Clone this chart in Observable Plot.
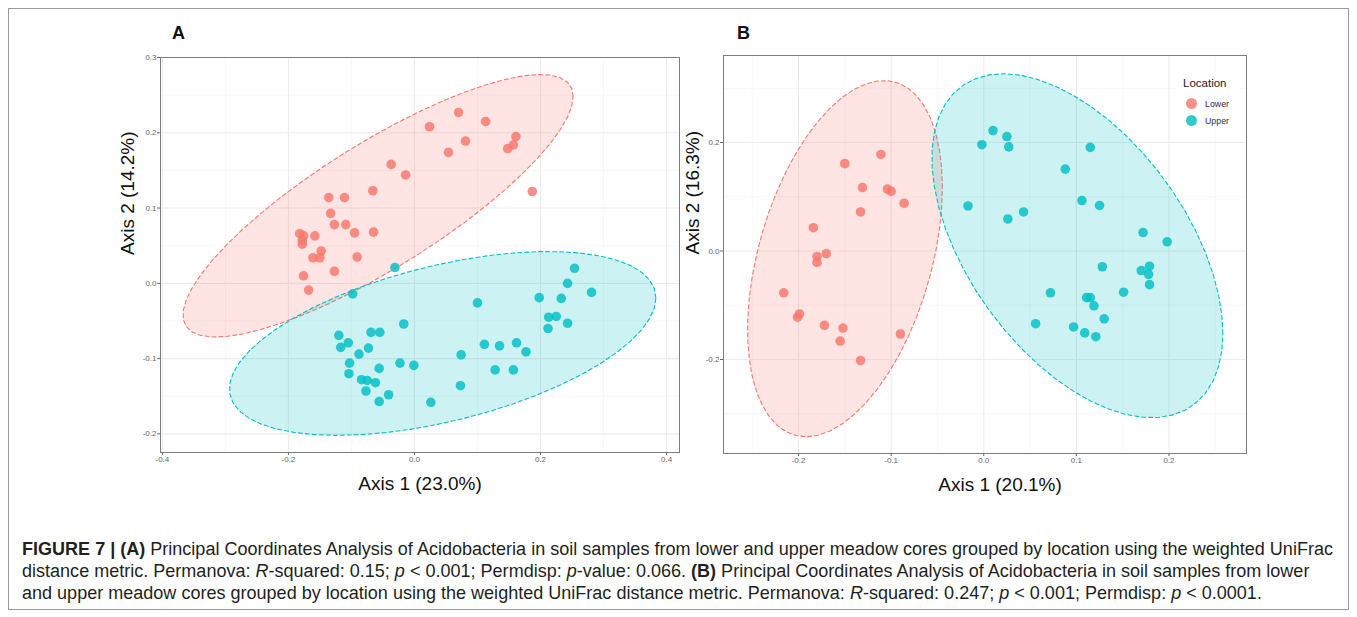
<!DOCTYPE html>
<html>
<head>
<meta charset="utf-8">
<script src="https://cdn.jsdelivr.net/npm/d3@7"></script>
<script src="https://cdn.jsdelivr.net/npm/@observablehq/plot@0.6"></script>
<style>
  body { margin: 0; background: #fff; }
  #fig { position: relative; width: 1357px; height: 617px; overflow: hidden; background: #fff;
         font-family: "Liberation Sans", Arial, sans-serif; }
  #border { position: absolute; left: 8px; top: 8px; width: 1341px; height: 602px;
            border: 1px solid #9a9a9a; box-sizing: border-box; }
  .panel { position: absolute; top: 0; }
  .tag { position: absolute; font-weight: bold; font-size: 18px; line-height: 18px; color: #111; }
  #legend { position: absolute; left: 1176px; top: 72px; width: 64px; height: 58px; background: #fff; }
  #legend .ttl { position: absolute; left: 7px; top: 5px; font-size: 11.5px; color: #222; }
  #legend .dot { position: absolute; width: 11px; height: 11px; border-radius: 50%; }
  #legend .lab { position: absolute; left: 29px; font-size: 8.8px; color: #333; line-height: 10px; }
  #caption { position: absolute; left: 22px; top: 538px; white-space: nowrap; color: #231f20;
             font-family: "Liberation Sans", Arial, sans-serif;
             font-size: 18.05px; line-height: 22px; }
</style>
</head>
<body>
<div id="fig">
  <div id="border"></div>
  <div id="panelA" class="panel" style="left:0px"></div>
  <div id="panelB" class="panel" style="left:670px"></div>
  <div class="tag" style="left:172px; top:24px">A</div>
  <div class="tag" style="left:737px; top:24px">B</div>
  <div id="legend"></div>
  <div id="caption"><b>FIGURE 7 | (A)</b> Principal Coordinates Analysis of Acidobacteria in soil samples from lower and upper meadow cores grouped by location using the weighted UniFrac<br>distance metric. Permanova: <i>R</i>-squared: 0.15; <i>p</i> &lt; 0.001; Permdisp: <i>p</i>-value: 0.066. <b>(B)</b> Principal Coordinates Analysis of Acidobacteria in soil samples from lower<br>and upper meadow cores grouped by location using the weighted UniFrac distance metric. Permanova: <i>R</i>-squared: 0.247; <i>p</i> &lt; 0.001; Permdisp: <i>p</i> &lt; 0.0001.</div>
</div>
<script>
// ---------------- DATA ----------------
const groups = ["Lower", "Upper"];
const groupColors = ["#F8766D", "#00BFC4"];
const legendTitle = "Location";

// Panel A
const aLowerX = [-0.037,-0.014,-0.066,-0.136,-0.111,-0.133,-0.127,-0.109,-0.095,-0.065,-0.182,-0.176,-0.158,-0.178,-0.178,-0.148,-0.161,-0.150,-0.091,-0.176,-0.127,-0.168,0.070,0.024,0.113,0.081,0.054,0.161,0.157,0.148,0.187];
const aLowerY = [0.158,0.144,0.123,0.114,0.114,0.093,0.078,0.078,0.067,0.068,0.066,0.063,0.063,0.057,0.052,0.043,0.034,0.034,0.035,0.010,0.016,-0.009,0.227,0.208,0.215,0.189,0.174,0.195,0.184,0.179,0.122];
const aUpperX = [-0.031,-0.098,-0.120,-0.117,-0.105,-0.069,-0.055,-0.088,-0.073,-0.103,-0.104,-0.056,-0.084,-0.075,-0.062,-0.077,-0.041,-0.056,-0.017,-0.023,-0.001,0.026,0.100,0.074,0.073,0.111,0.135,0.162,0.177,0.128,0.157,0.198,0.233,0.243,0.254,0.281,0.213,0.225,0.212,0.243];
const aUpperY = [0.021,-0.014,-0.069,-0.085,-0.079,-0.065,-0.065,-0.094,-0.086,-0.106,-0.120,-0.113,-0.128,-0.129,-0.132,-0.143,-0.148,-0.157,-0.054,-0.106,-0.109,-0.158,-0.026,-0.095,-0.136,-0.081,-0.083,-0.079,-0.091,-0.115,-0.115,-0.019,-0.020,0.000,0.020,-0.012,-0.045,-0.044,-0.060,-0.053];
const aAxisTitles = ["Axis 1 (23.0%)", "Axis 2 (14.2%)"];
const aDomainX = [-0.403, 0.4206];
const aDomainY = [-0.2247, 0.3];
const aTicksX = [-0.4, -0.2, 0, 0.2, 0.4];
const aTicksY = [-0.2, -0.1, 0, 0.1, 0.2, 0.3];
const aMinorX = [-0.3, -0.1, 0.1, 0.3];
const aMinorY = [-0.15, -0.05, 0.05, 0.15, 0.25];

// Panel B
const bLowerX = [-0.111,-0.150,-0.131,-0.104,-0.100,-0.086,-0.133,-0.184,-0.180,-0.170,-0.180,-0.216,-0.199,-0.201,-0.172,-0.152,-0.155,-0.133,-0.090];
const bLowerY = [0.178,0.161,0.117,0.114,0.110,0.088,0.072,0.043,-0.010,-0.005,-0.021,-0.077,-0.116,-0.122,-0.137,-0.142,-0.166,-0.202,-0.153];
const bUpperX = [0.010,0.025,0.027,-0.002,0.115,0.088,-0.017,0.026,0.043,0.106,0.125,0.172,0.198,0.128,0.170,0.179,0.178,0.179,0.072,0.111,0.115,0.119,0.151,0.130,0.056,0.097,0.109,0.121];
const bUpperY = [0.222,0.211,0.192,0.196,0.191,0.151,0.083,0.059,0.072,0.093,0.084,0.034,0.017,-0.029,-0.036,-0.028,-0.043,-0.062,-0.077,-0.086,-0.086,-0.101,-0.076,-0.125,-0.134,-0.140,-0.151,-0.158];
const bAxisTitles = ["Axis 1 (20.1%)", "Axis 2 (16.3%)"];
const bDomainX = [-0.281, 0.2837];
const bDomainY = [-0.3733, 0.3604];
const bTicksX = [-0.2, -0.1, 0, 0.1, 0.2];
const bTicksY = [-0.2, 0, 0.2];
const bMinorX = [-0.25, -0.15, -0.05, 0.05, 0.15, 0.25];
const bMinorY = [-0.3, -0.1, 0.1, 0.3];

// ---------------- ELLIPSE (ggplot2 stat_ellipse, type "norm", level 0.95) ----------------
function statEllipse(xs, ys, level = 0.95, segments = 51) {
  const n = xs.length;
  const mx = d3.mean(xs), my = d3.mean(ys);
  let a = 0, b = 0, c = 0;
  for (let i = 0; i < n; i++) {
    const u = xs[i] - mx, v = ys[i] - my;
    a += u * u; b += u * v; c += v * v;
  }
  a /= (n - 1); b /= (n - 1); c /= (n - 1);
  const r11 = Math.sqrt(a), r12 = b / r11, r22 = Math.sqrt(c - r12 * r12);
  const dfd = n - 1;
  const fq = dfd / 2 * (Math.pow(1 - level, -2 / dfd) - 1); // qf(level, 2, dfd)
  const radius = Math.sqrt(2 * fq);
  return d3.range(segments + 1).map(k => {
    const t = k * 2 * Math.PI / segments;
    const cs = Math.cos(t), sn = Math.sin(t);
    return { x: mx + radius * cs * r11, y: my + radius * (cs * r12 + sn * r22) };
  });
}

const fmt = d => d.toFixed(1);

function panel(cfg) {
  const series = cfg.series;
  const marks = [
    Plot.ruleX(cfg.minorX, { stroke: "#f3f3f3", strokeWidth: 0.7 }),
    Plot.ruleY(cfg.minorY, { stroke: "#f3f3f3", strokeWidth: 0.7 }),
    Plot.ruleX(cfg.ticksX, { stroke: "#ebebeb", strokeWidth: 1.1 }),
    Plot.ruleY(cfg.ticksY, { stroke: "#ebebeb", strokeWidth: 1.1 })
  ];
  for (const s of series) {
    marks.push(Plot.line(statEllipse(s.xs, s.ys), {
      x: "x", y: "y", fill: s.color, fillOpacity: 0.2, stroke: s.color,
      strokeWidth: 1.1, strokeDasharray: "4,3", curve: "linear"
    }));
  }
  for (const s of series) {
    const pts = s.xs.map((x, i) => ({ x, y: s.ys[i] }));
    marks.push(Plot.dot(pts, { x: "x", y: "y", r: 4.8, fill: s.color, fillOpacity: 0.82, stroke: "none" }));
  }
  marks.push(
    Plot.frame({ stroke: "#7d7d7d", strokeWidth: 1 }),
    Plot.axisX(cfg.ticksX, { tickFormat: fmt, tickSize: 3, tickPadding: 1, fontSize: 8, color: "#666", label: null }),
    Plot.axisY(cfg.ticksY, { tickFormat: fmt, tickSize: 3, tickPadding: 1, fontSize: 8, color: "#666", label: null }),
    Plot.text([cfg.titles[0]], { text: d => d, frameAnchor: "bottom", dy: 37, dx: cfg.xTitleDx, fontSize: 19, fill: "#111" }),
    Plot.text([cfg.titles[1]], { text: d => d, frameAnchor: "left", rotate: -90, dx: cfg.yTitleDx, fontSize: 19, fill: "#111" })
  );
  return Plot.plot({
    width: cfg.width, height: cfg.height,
    marginLeft: cfg.ml, marginRight: cfg.mr, marginTop: cfg.mt, marginBottom: cfg.mb,
    x: { domain: cfg.domainX },
    y: { domain: cfg.domainY },
    style: { fontFamily: "'Liberation Sans', Arial, sans-serif", background: "transparent", overflow: "visible" },
    marks
  });
}

document.getElementById("panelA").appendChild(panel({
  width: 690, height: 500, ml: 160, mr: 11, mt: 57, mb: 48,
  domainX: aDomainX, domainY: aDomainY,
  ticksX: aTicksX, ticksY: aTicksY, minorX: aMinorX, minorY: aMinorY,
  titles: aAxisTitles, xTitleDx: 0, yTitleDx: -33,
  series: [
    { xs: aLowerX, ys: aLowerY, color: groupColors[0] },
    { xs: aUpperX, ys: aUpperY, color: groupColors[1] }
  ]
}));

document.getElementById("panelB").appendChild(panel({
  width: 687, height: 500, ml: 53, mr: 111, mt: 55, mb: 47,
  domainX: bDomainX, domainY: bDomainY,
  ticksX: bTicksX, ticksY: bTicksY, minorX: bMinorX, minorY: bMinorY,
  titles: bAxisTitles, xTitleDx: 15, yTitleDx: -31,
  series: [
    { xs: bLowerX, ys: bLowerY, color: groupColors[0] },
    { xs: bUpperX, ys: bUpperY, color: groupColors[1] }
  ]
}));

// Legend (panel B)
const legend = document.getElementById("legend");
const ttl = document.createElement("div");
ttl.className = "ttl"; ttl.textContent = legendTitle; legend.appendChild(ttl);
groups.forEach((g, i) => {
  const dot = document.createElement("div");
  dot.className = "dot";
  dot.style.left = "10px"; dot.style.top = (26 + i * 17) + "px";
  dot.style.background = groupColors[i]; dot.style.opacity = 0.82;
  legend.appendChild(dot);
  const lab = document.createElement("div");
  lab.className = "lab"; lab.textContent = g;
  lab.style.top = (26.5 + i * 17) + "px";
  legend.appendChild(lab);
});
</script>
</body>
</html>
